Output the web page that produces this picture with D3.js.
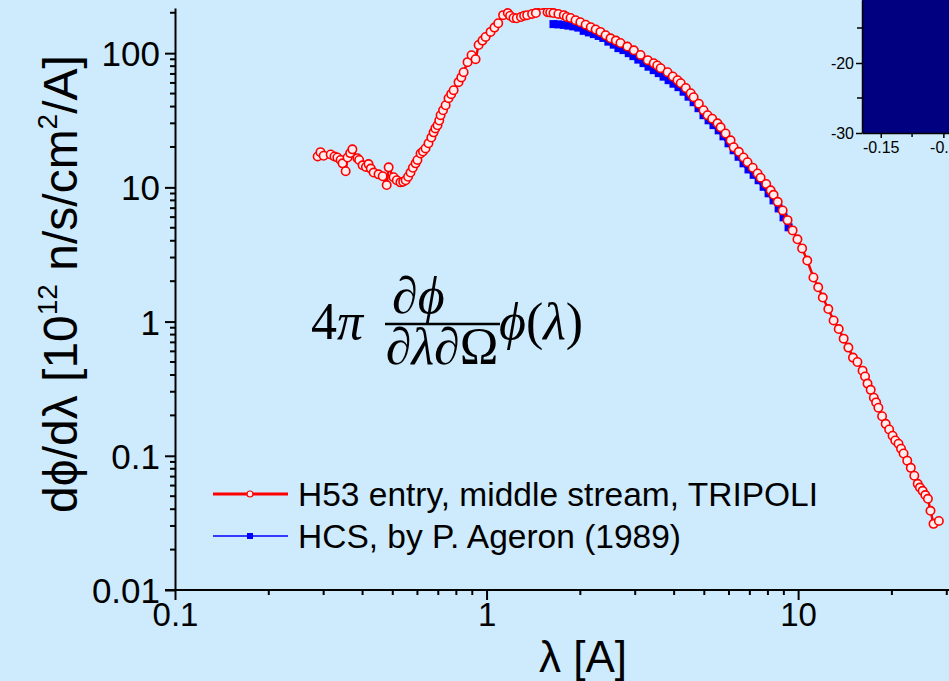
<!DOCTYPE html>
<html>
<head>
<meta charset="utf-8">
<script src="https://cdn.jsdelivr.net/npm/d3@7"></script>
<style>
  body { margin: 0; background: #cdebfd; }
  svg { display: block; }
</style>
</head>
<body>
<div id="chart"></div>
<script>
// H53 entry, middle stream (TRIPOLI) : [wavelength A, flux]
const h53Points = [
  [0.287, 17.0], [0.293, 18.3], [0.300, 17.2], [0.316, 17.6], [0.325, 17.0], [0.332, 16.7],
  [0.340, 16.0], [0.345, 15.1], [0.353, 13.2], [0.358, 16.7], [0.365, 18.0], [0.371, 19.2],
  [0.385, 16.5], [0.390, 16.0], [0.400, 14.6], [0.410, 14.2], [0.418, 14.9], [0.425, 13.8],
  [0.434, 12.9], [0.450, 12.5], [0.464, 12.1], [0.478, 10.4], [0.485, 14.1], [0.503, 11.9],
  [0.515, 11.3], [0.529, 10.9], [0.540, 11.0], [0.550, 11.3], [0.560, 12.0], [0.570, 12.9],
  [0.580, 14.0], [0.592, 15.1], [0.600, 16.0], [0.614, 17.9], [0.625, 18.5], [0.637, 19.5],
  [0.651, 21.3], [0.665, 23.5], [0.676, 25.7], [0.685, 27.5], [0.696, 29.0], [0.705, 31.5],
  [0.712, 34.5], [0.725, 37.5], [0.739, 40.9], [0.755, 46.2], [0.770, 49.5], [0.784, 53.0],
  [0.813, 60.8], [0.830, 66.0], [0.844, 72.1], [0.869, 85.7], [0.895, 96.6], [0.922, 90.2],
  [0.943, 115], [0.970, 124], [0.993, 132], [1.03, 144], [1.06, 155], [1.09, 167],
  [1.13, 192], [1.17, 199], [1.19, 190], [1.22, 183], [1.25, 182], [1.29, 186],
  [1.32, 190], [1.35, 192], [1.40, 196], [1.44, 199], [1.50, 228], [1.54, 230],
  [1.57, 202], [1.60, 201], [1.64, 199], [1.70, 196], [1.77, 192], [1.81, 186],
  [1.86, 183], [1.93, 176], [2.00, 170], [2.08, 163], [2.16, 156], [2.24, 150],
  [2.32, 144], [2.41, 136], [2.50, 129], [2.60, 124], [2.69, 119], [2.83, 112],
  [2.97, 105], [3.12, 97], [3.29, 88.7], [3.44, 84.2], [3.53, 81], [3.62, 77.3],
  [3.81, 72.1], [3.96, 67], [4.10, 62.9], [4.20, 59.7], [4.36, 55], [4.52, 50.3],
  [4.62, 47.0], [4.80, 42], [4.97, 37.6], [5.12, 34.5], [5.30, 32.5], [5.51, 30.0],
  [5.64, 28.0], [5.85, 25.2], [6.07, 22.4], [6.21, 19.9], [6.45, 18.4], [6.68, 16.7],
  [6.88, 15.4], [7.15, 14.0], [7.41, 12.7], [7.58, 11.8], [7.90, 10.6], [8.16, 9.50],
  [8.34, 8.80], [8.60, 7.80], [8.92, 6.73], [9.25, 5.70], [9.60, 4.78], [9.95, 4.10],
  [10.3, 3.51], [10.7, 2.85], [11.2, 2.13], [11.6, 1.80], [12.0, 1.51], [12.5, 1.24],
  [13.0, 1.02], [13.5, 0.88], [14.0, 0.746], [14.5, 0.64], [15.0, 0.539], [15.5, 0.50],
  [16.1, 0.431], [16.4, 0.39], [16.7, 0.345], [17.1, 0.31], [17.5, 0.271], [17.8, 0.250],
  [18.1, 0.228], [18.6, 0.197], [19.1, 0.173], [19.6, 0.157], [20.1, 0.141], [20.5, 0.130],
  [21.0, 0.123], [21.4, 0.113], [21.8, 0.104], [22.4, 0.092], [23.0, 0.0813], [23.6, 0.071],
  [24.2, 0.0618], [24.6, 0.058], [25.1, 0.0548], [25.6, 0.0510], [26.1, 0.0478], [26.6, 0.0389],
  [27.2, 0.0311], [28.3, 0.0327]
];

// HCS, by P. Ageron (1989)
const lambdaHCS = [1.64, 1.70, 1.77, 1.83, 1.90, 1.97, 2.05, 2.13, 2.21, 2.29,
  2.37, 2.46, 2.56, 2.65, 2.75, 2.86, 2.96, 3.07, 3.19, 3.31,
  3.44, 3.57, 3.70, 3.84, 3.98, 4.13, 4.29, 4.45, 4.62, 4.79,
  4.97, 5.16, 5.35, 5.56, 5.76, 5.98, 6.21, 6.44, 6.68, 6.93,
  7.20, 7.47, 7.75, 8.04, 8.34, 8.66, 8.98, 9.32];
const fluxHCS = [164.6, 163.8, 162.4, 160.4, 158.2, 155.0, 146.6, 142.8, 138.7, 134.4,
  129.9, 121.9, 115.7, 109.0, 105.4, 100.0, 95.0, 89.5, 84.3, 79.3,
  74.7, 71.0, 66.8, 62.9, 59.2, 55.8, 51.6, 47.4, 43.1, 38.9,
  34.5, 31.6, 29.1, 26.6, 24.0, 21.3, 18.9, 16.9, 15.1, 13.6,
  12.4, 11.3, 10.1, 9.03, 8.0, 6.97, 5.98, 5.04];

const seriesNames = ["H53 entry, middle stream, TRIPOLI", "HCS, by P. Ageron (1989)"];
const seriesColors = ["#ff0000", "#0000ff"];

const xMajorTicks = [0.1, 1, 10];
const xTickLabels = ["0.1", "1", "10"];
const yMajorTicks = [0.01, 0.1, 1, 10, 100];
const yTickLabels = ["0.01", "0.1", "1", "10", "100"];

// inset panel (cut by the right / top edge)
const insetXDomain = [-0.165, -0.0955];
const insetYDomain = [-30, -11];
const insetXTicks = [-0.15, -0.1];
const insetXTickLabels = ["-0.15", "-0.1"];
const insetXMinor = [-0.125];
const insetYTicks = [-30, -20];
const insetYTickLabels = ["-30", "-20"];
const insetYMinor = [-25, -15];

const width = 949;
const height = 681;
const margin = {top: 8, right: 0, bottom: 91, left: 175};
const font = "Liberation Sans, Arial, sans-serif";

const h53 = h53Points.map(([x, y]) => ({x, y}));
const hcs = lambdaHCS.map((x, i) => ({x: x, y: fluxHCS[i]}));

const xScale = d3.scaleLog()
    .domain([0.1, 30.5])
    .range([margin.left, width - margin.right]);

const yScale = d3.scaleLog()
    .domain([0.01, 217])
    .range([height - margin.bottom, margin.top]);

// minor ticks 2..9 in every decade
const minorOf = (lo, hi) => {
  const out = [];
  for (let e = lo; e < hi; e++)
    for (let k = 2; k <= 9; k++) out.push(k * Math.pow(10, e));
  return out;
};
const xMinor = minorOf(-1, 2).filter(v => v <= 30.5);
const yMinor = minorOf(-2, 3).filter(v => v <= 217);

const svg = d3.select("#chart").append("svg")
    .attr("width", width)
    .attr("height", height)
    .attr("viewBox", [0, 0, width, height])
    .style("font-family", font);

svg.append("rect")
    .attr("width", width).attr("height", height)
    .attr("fill", "#cdebfd");

svg.append("clipPath").attr("id", "plotclip")
  .append("rect")
    .attr("x", margin.left).attr("y", margin.top)
    .attr("width", width - margin.left - margin.right)
    .attr("height", height - margin.top - margin.bottom);

// ---- inset ----
const ix = d3.scaleLinear().domain(insetXDomain).range([862, 949]);
const iy = d3.scaleLinear().domain(insetYDomain).range([133, 0]);

svg.append("rect")
    .attr("x", ix(insetXDomain[0]))
    .attr("y", iy(insetYDomain[1]) - 10)
    .attr("width", ix(insetXDomain[1]) - ix(insetXDomain[0]) + 5)
    .attr("height", iy(insetYDomain[0]) - iy(insetYDomain[1]) + 10)
    .attr("fill", "#000080");

const insetX = svg.append("g")
    .attr("transform", `translate(0,${iy(insetYDomain[0])})`)
    .call(d3.axisBottom(ix).tickValues(insetXTicks)
      .tickFormat((d, i) => insetXTickLabels[i]).tickSize(5).tickSizeOuter(0).tickPadding(4));
insetX.selectAll("line.minor").data(insetXMinor).enter().append("line")
    .attr("class", "minor")
    .attr("x1", d => ix(d)).attr("x2", d => ix(d))
    .attr("y1", 0).attr("y2", 4);

const insetY = svg.append("g")
    .attr("transform", `translate(${ix(insetXDomain[0])},0)`)
    .call(d3.axisLeft(iy).tickValues(insetYTicks)
      .tickFormat((d, i) => insetYTickLabels[i]).tickSize(6).tickSizeOuter(0).tickPadding(2));
insetY.selectAll("line.minor").data(insetYMinor).enter().append("line")
    .attr("class", "minor")
    .attr("y1", d => iy(d)).attr("y2", d => iy(d))
    .attr("x1", 0).attr("x2", -5);

[insetX, insetY].forEach(g => {
  g.selectAll("text").style("font-size", "16px").style("font-family", font).attr("fill", "#000");
  g.selectAll("path, line").attr("stroke", "#000").attr("stroke-width", 1.5);
});

// ---- main axes ----
const xAxis = svg.append("g")
    .attr("transform", `translate(0,${height - margin.bottom})`)
    .call(d3.axisBottom(xScale).tickValues(xMajorTicks)
      .tickFormat((d, i) => xTickLabels[i]).tickSize(10).tickSizeOuter(0).tickPadding(3));
xAxis.selectAll("line.minor").data(xMinor).enter().append("line")
    .attr("class", "minor")
    .attr("x1", d => xScale(d)).attr("x2", d => xScale(d))
    .attr("y1", 0).attr("y2", 5);
xAxis.select("path.domain").attr("d", `M${margin.left - 10},0H${width}`);

const yAxis = svg.append("g")
    .attr("transform", `translate(${margin.left},0)`)
    .call(d3.axisLeft(yScale).tickValues(yMajorTicks)
      .tickFormat((d, i) => yTickLabels[i]).tickSize(10).tickSizeOuter(0).tickPadding(5));
yAxis.selectAll("line.minor").data(yMinor).enter().append("line")
    .attr("class", "minor")
    .attr("y1", d => yScale(d)).attr("y2", d => yScale(d))
    .attr("x1", 0).attr("x2", -5);

[xAxis, yAxis].forEach(g => {
  g.selectAll("path, line").attr("stroke", "#000").attr("stroke-width", 2);
  g.selectAll("text").style("font-family", font).attr("fill", "#000");
});
xAxis.selectAll("text").style("font-size", "33px");
yAxis.selectAll("text").style("font-size", "35px").attr("dy", "0.36em");

// ---- data ----
const plot = svg.append("g").attr("clip-path", "url(#plotclip)");

const lineFunc = d3.line()
  .x(({x}) => xScale(x))
  .y(({y}) => yScale(y));

plot.append("path")
    .attr("d", lineFunc(hcs))
    .attr("fill", "none")
    .attr("stroke", seriesColors[1])
    .attr("stroke-width", 4);
plot.selectAll("rect.hcs").data(hcs).enter().append("rect")
    .attr("class", "hcs")
    .attr("x", d => xScale(d.x) - 4)
    .attr("y", d => yScale(d.y) - 4)
    .attr("width", 8).attr("height", 8)
    .attr("fill", seriesColors[1]);

plot.append("path")
    .attr("d", lineFunc(h53))
    .attr("fill", "none")
    .attr("stroke", seriesColors[0])
    .attr("stroke-width", 2.5);
plot.selectAll("circle.h53").data(h53).enter().append("circle")
    .attr("class", "h53")
    .attr("cx", d => xScale(d.x))
    .attr("cy", d => yScale(d.y))
    .attr("r", 4.2)
    .attr("fill", "#ffecec")
    .attr("stroke", seriesColors[0])
    .attr("stroke-width", 1.6);

// ---- legend ----
const legend = svg.append("g");
seriesNames.forEach((name, i) => {
  const y = 494 + i * 42;
  legend.append("line")
      .attr("x1", 213).attr("x2", 288).attr("y1", y).attr("y2", y)
      .attr("stroke", seriesColors[i]).attr("stroke-width", i === 0 ? 3 : 1.5);
  if (i === 0) {
    legend.append("circle").attr("cx", 250).attr("cy", y).attr("r", 3)
        .attr("fill", "#ffecec").attr("stroke", seriesColors[0]).attr("stroke-width", 1.2);
  } else {
    legend.append("rect").attr("x", 247).attr("y", y - 3).attr("width", 6).attr("height", 6)
        .attr("fill", seriesColors[1]);
  }
  legend.append("text")
      .attr("x", 298).attr("y", y + 12)
      .style("font-size", "33.5px")
      .text(name);
});

// ---- axis titles ----
svg.append("text")
    .attr("x", 583).attr("y", 672)
    .attr("text-anchor", "middle")
    .style("font-size", "44px")
    .text("λ [A]");

const yTitle = svg.append("text")
    .attr("transform", "translate(77,284) rotate(-90)")
    .attr("text-anchor", "middle")
    .style("font-size", "48px");
yTitle.append("tspan").text("dϕ/dλ [10");
yTitle.append("tspan").attr("dy", -20).style("font-size", "28px").text("12");
yTitle.append("tspan").attr("dy", 20).text(" n/s/cm");
yTitle.append("tspan").attr("dy", -20).style("font-size", "28px").text("2");
yTitle.append("tspan").attr("dy", 20).text("/A]");

// ---- formula ----
const serif = "Liberation Serif, Times New Roman, serif";
const formula = svg.append("g").style("font-family", serif).style("font-size", "52px");
formula.append("text").attr("x", 311).attr("y", 339)
    .html('4<tspan font-style="italic">π</tspan>');
formula.append("text").attr("x", 392).attr("y", 313)
    .html('∂<tspan font-style="italic">ϕ</tspan>');
formula.append("line").attr("x1", 385).attr("x2", 500).attr("y1", 324).attr("y2", 324)
    .attr("stroke", "#000").attr("stroke-width", 2.5);
formula.append("text").attr("x", 442).attr("y", 364).attr("text-anchor", "middle")
    .html('∂<tspan font-style="italic">λ</tspan>∂Ω');
formula.append("text").attr("x", 499).attr("y", 339)
    .html('<tspan font-style="italic">ϕ</tspan>(<tspan font-style="italic">λ</tspan>)');
</script>
</body>
</html>
